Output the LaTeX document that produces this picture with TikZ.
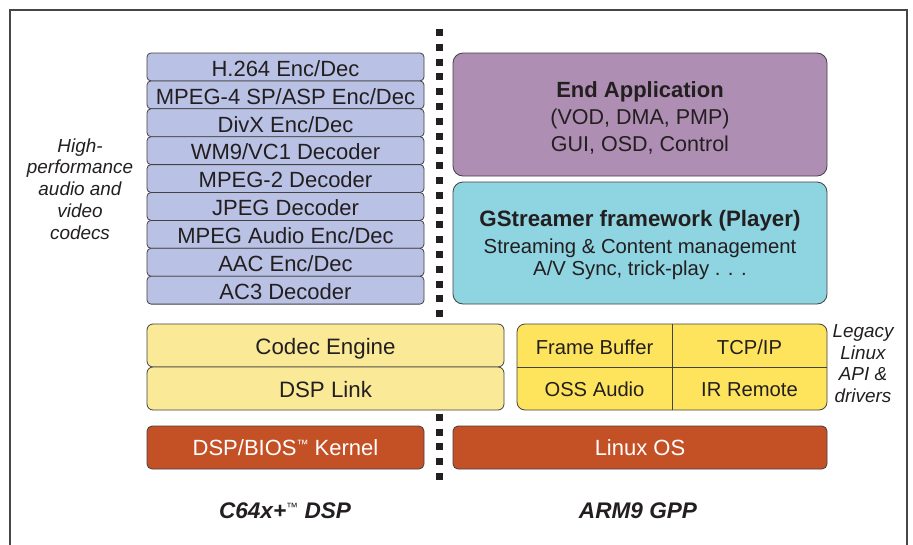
\documentclass[tikz,border=0pt]{standalone}
\usepackage{fontspec}
\setmainfont{Liberation Sans}
\definecolor{codecblue}{RGB}{185,193,228}
\definecolor{apppurple}{RGB}{174,142,178}
\definecolor{gstcyan}{RGB}{143,212,225}
\definecolor{celight}{RGB}{250,234,152}
\definecolor{legyellow}{RGB}{253,228,92}
\definecolor{kernred}{RGB}{196,80,38}
\definecolor{ink}{RGB}{35,31,32}
\definecolor{framegray}{RGB}{70,70,70}
\newcommand{\smalltm}{{\fontsize{12}{12}\selectfont\raisebox{6.5pt}{™}}}
\tikzset{
  box/.style={draw=ink!85, line width=0.8pt, inner sep=0pt, outer sep=0pt, text=ink, align=center, text depth=0pt},
  codec/.style={box, fill=codecblue, rounded corners=4pt, minimum width=277pt, minimum height=27.9pt, text height=18.5pt, font=\fontsize{22}{24}\selectfont},
  bigbox/.style={box, rounded corners=10pt, minimum width=374pt},
  cebox/.style={box, fill=celight, rounded corners=6pt, minimum width=357pt, minimum height=43pt, text height=18pt, font=\fontsize{22.3}{24}\selectfont},
  kern/.style={box, fill=kernred, rounded corners=5pt, minimum height=43pt, text=white, text height=15.8pt, font=\fontsize{22}{24}\selectfont},
  line/.style={inner sep=0pt, anchor=base, text=ink},
  cell/.style={inner sep=0pt, text=ink, text height=16.5pt, text depth=0pt, font=\fontsize{20.2}{22}\selectfont},
  side/.style={inner sep=0pt, text=ink, align=center, font=\fontsize{18.9}{21.8}\selectfont\itshape},
  cpu/.style={inner sep=0pt, text=ink, text height=16.2pt, text depth=0pt, font=\fontsize{22.6}{24}\selectfont\bfseries\itshape},
  dots/.style={line width=7pt, dash pattern=on 7pt off 7.8pt, draw=ink},
  sep/.style={draw=ink!85, line width=0.8pt},
}
\begin{document}
\begin{tikzpicture}[x=1pt,y=-1pt]
\useasboundingbox (0,0) rectangle (913,544);
% frame
\coordinate (fbl) at (10,550);
\coordinate (ftl) at (10,10);
\coordinate (ftr) at (907,10);
\coordinate (fbr) at (907,550);
\draw[framegray, line width=1.3pt] (fbl) -- (ftl) -- (ftr) -- (fbr);
% dotted divider
\coordinate (dtop) at (439,29);
\coordinate (dbot) at (439,481);
\draw[dots] (dtop) -- (dbot);
% codec stack
\foreach \t [count=\i] in {H.264 Enc/Dec, MPEG-4 SP/ASP Enc/Dec, DivX Enc/Dec, WM9/VC1 Decoder, MPEG-2 Decoder, JPEG Decoder, MPEG Audio Enc/Dec, AAC Enc/Dec, AC3 Decoder}
  \node[codec] (c\i) at (285.5, {53+27.9*(\i-0.5)}) {\t};
% end application
\node[bigbox, fill=apppurple, minimum height=123pt] (app) at (640,114.5) {};
\node[line, font=\fontsize{22}{24}\selectfont\bfseries] (app1) at (640,97) {End Application};
\node[line, font=\fontsize{21.5}{24}\selectfont] (app2) at (640,124) {(VOD, DMA, PMP)};
\node[line, font=\fontsize{21.5}{24}\selectfont] (app3) at (640,151) {GUI, OSD, Control};
% gstreamer
\node[bigbox, fill=gstcyan, minimum height=122pt] (gst) at (640,243) {};
\node[line, font=\fontsize{22.3}{24}\selectfont\bfseries] (gst1) at (640,226) {GStreamer framework (Player)};
\node[line, font=\fontsize{20.3}{22}\selectfont] (gst2) at (640,253) {Streaming \& Content management};
\node[line, font=\fontsize{20.3}{22}\selectfont] (gst3) at (640,275) {A/V Sync, trick-play . . .};
% codec engine / dsp link
\node[cebox] (ce) at (325.5,345.5) {Codec Engine};
\node[cebox] (link) at (325.5,388.5) {DSP Link};
% legacy block
\node[box, fill=legyellow, rounded corners=8pt, minimum width=310pt, minimum height=86pt] (leg) at (672,367) {};
\draw[sep] (leg.north) -- (leg.south);
\draw[sep] (leg.west) -- (leg.east);
\node[cell] (fb) at (594.5,346.5) {Frame Buffer};
\node[cell] (tcp) at (749.5,346.5) {TCP/IP};
\node[cell] (oss) at (594.5,388.5) {OSS Audio};
\node[cell] (ir) at (749.5,388.5) {IR Remote};
% kernels
\node[kern, minimum width=277pt] (bios) at (285.5,447.5) {DSP/BIOS\smalltm\ Kernel};
\node[kern, minimum width=374pt] (linux) at (640,447.5) {Linux OS};
% side labels
\node[side] (hp) at (80,189) {High-\\performance\\audio and\\video\\codecs};
\node[side] (lg) at (863,363.5) {Legacy\\Linux\\API \&\\drivers};
% cpu labels
\node[cpu] (dsp) at (285,510) {C64x+{\mdseries\itshape\fontsize{12}{12}\selectfont\raisebox{6.5pt}{™}} DSP};
\node[cpu] (arm) at (638,510) {ARM9 GPP};
\end{tikzpicture}
\end{document}
